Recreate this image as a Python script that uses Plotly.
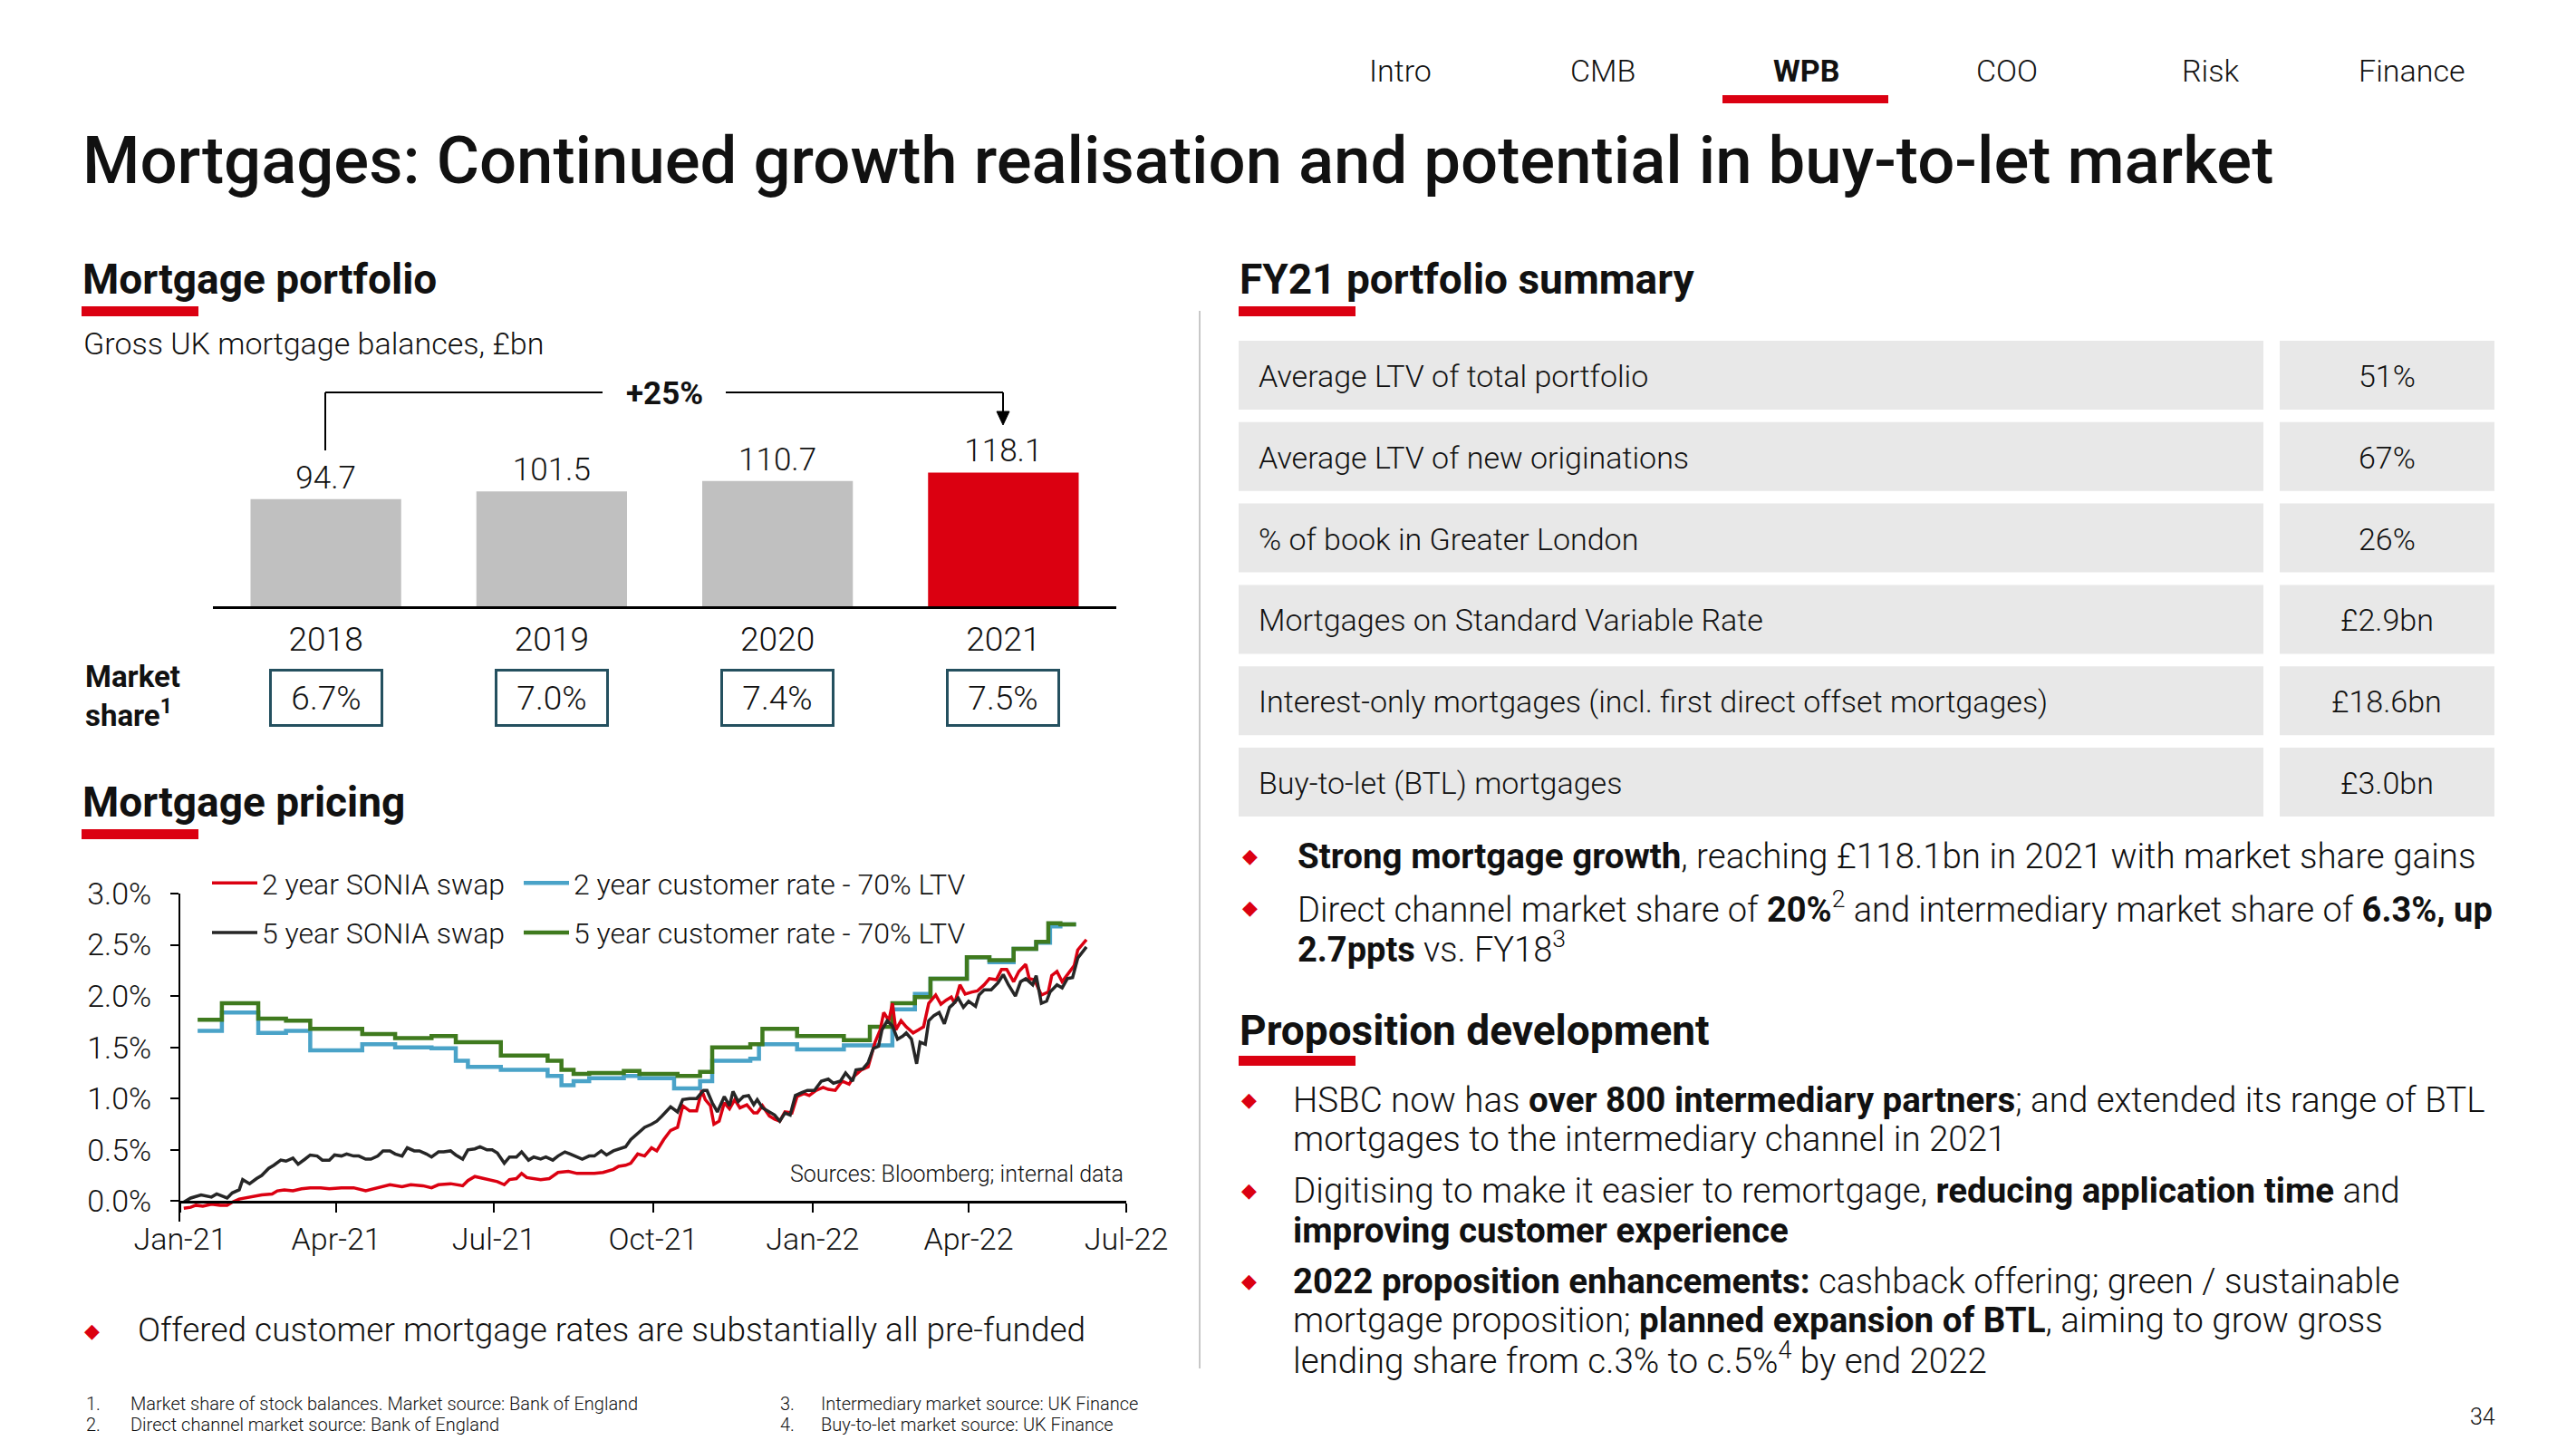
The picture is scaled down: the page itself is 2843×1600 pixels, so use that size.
import plotly.graph_objects as go

W, H = 2843, 1600
def X(p): return p / W
def Y(p): return 1 - p / H

FONT = "Roboto"
TXT = "#111111"
RED = "#DB0011"
GREY = "#C0C0C0"
TEAL = "#24505F"
TABLE_BG = "#E8E8E8"
BLUE = "#4AA3C8"
GREEN = "#3F7A1E"
BLACK = "#262626"

# ---------------- data ----------------
years = ["2018", "2019", "2020", "2021"]
balances = [94.7, 101.5, 110.7, 118.1]
market_share = ["6.7%", "7.0%", "7.4%", "7.5%"]

sonia2_dates = ["2021-01-03","2021-01-07","2021-01-10","2021-01-14","2021-01-19","2021-01-24","2021-01-28","2021-01-31",
    "2021-02-04","2021-02-07","2021-02-12","2021-02-17","2021-02-23","2021-02-26",
    "2021-03-02","2021-03-07","2021-03-12","2021-03-17","2021-03-23","2021-03-28",
    "2021-04-04","2021-04-11","2021-04-18","2021-04-25",
    "2021-05-02","2021-05-09","2021-05-14","2021-05-21","2021-05-26","2021-05-30",
    "2021-06-06","2021-06-13","2021-06-16","2021-06-20","2021-06-25","2021-06-30",
    "2021-07-03","2021-07-07","2021-07-10","2021-07-14","2021-07-17","2021-07-20","2021-07-24","2021-07-28",
    "2021-08-02","2021-08-07","2021-08-13","2021-08-18","2021-08-23","2021-08-28",
    "2021-09-02","2021-09-08","2021-09-11","2021-09-15","2021-09-18","2021-09-22","2021-09-26","2021-09-30",
    "2021-10-03","2021-10-07","2021-10-11","2021-10-15","2021-10-18","2021-10-22","2021-10-26","2021-10-29","2021-10-31",
    "2021-11-03","2021-11-05","2021-11-08","2021-11-11","2021-11-14","2021-11-17","2021-11-20","2021-11-24","2021-11-28","2021-11-30",
    "2021-12-03","2021-12-07","2021-12-10","2021-12-13","2021-12-16","2021-12-20","2021-12-23","2021-12-27","2021-12-30",
    "2022-01-03","2022-01-07","2022-01-10","2022-01-14","2022-01-18","2022-01-22","2022-01-25","2022-01-29",
    "2022-02-02","2022-02-06","2022-02-09","2022-02-11","2022-02-14","2022-02-16","2022-02-18","2022-02-21","2022-02-24","2022-02-28",
    "2022-03-03","2022-03-06","2022-03-09","2022-03-13","2022-03-16","2022-03-19","2022-03-22","2022-03-24","2022-03-27","2022-03-30",
    "2022-04-03","2022-04-06","2022-04-10","2022-04-13","2022-04-17","2022-04-20","2022-04-23","2022-04-27","2022-04-30",
    "2022-05-04","2022-05-06","2022-05-09","2022-05-13","2022-05-17","2022-05-19","2022-05-22","2022-05-25","2022-05-29",
    "2022-06-01","2022-06-03","2022-06-08"]
sonia2_vals = [-0.07,-0.06,-0.04,-0.05,-0.03,-0.04,-0.04,-0.01,
    0.02,0.03,0.04,0.06,0.07,0.10,
    0.11,0.10,0.12,0.13,0.13,0.12,
    0.13,0.13,0.10,0.13,
    0.16,0.14,0.16,0.15,0.13,0.16,
    0.17,0.15,0.20,0.24,0.22,0.20,
    0.19,0.16,0.21,0.22,0.27,0.23,0.22,0.21,
    0.22,0.28,0.29,0.27,0.27,0.27,
    0.28,0.31,0.34,0.35,0.37,0.46,0.44,0.52,
    0.49,0.60,0.69,0.72,0.93,0.88,0.88,1.08,0.99,
    0.93,0.75,0.78,0.96,0.90,0.99,0.91,0.94,0.86,0.86,
    0.93,0.83,0.80,0.78,0.87,0.86,1.02,1.05,1.03,
    1.08,1.11,1.09,1.08,1.17,1.14,1.22,1.28,
    1.31,1.55,1.67,1.84,1.76,1.93,1.67,1.76,1.70,1.64,
    1.67,1.70,1.93,2.01,1.92,1.96,1.99,1.93,2.11,2.02,
    2.04,2.05,2.11,2.17,2.16,2.26,2.26,2.14,2.24,
    2.31,2.17,2.16,2.01,2.04,2.20,2.24,2.14,2.23,
    2.30,2.45,2.55]

sonia5_dates = ["2021-01-03","2021-01-07","2021-01-13","2021-01-19","2021-01-22","2021-01-28","2021-01-31",
    "2021-02-04","2021-02-06","2021-02-10","2021-02-14","2021-02-17","2021-02-21","2021-02-24","2021-02-28",
    "2021-03-03","2021-03-07","2021-03-10","2021-03-14","2021-03-17","2021-03-21","2021-03-24","2021-03-28","2021-03-31",
    "2021-04-04","2021-04-07","2021-04-11","2021-04-14","2021-04-18","2021-04-21","2021-04-25","2021-04-28",
    "2021-05-02","2021-05-05","2021-05-09","2021-05-12","2021-05-16","2021-05-19","2021-05-23","2021-05-26","2021-05-30",
    "2021-06-02","2021-06-06","2021-06-09","2021-06-13","2021-06-16","2021-06-20","2021-06-23","2021-06-27","2021-06-30",
    "2021-07-03","2021-07-07","2021-07-10","2021-07-14","2021-07-17","2021-07-21","2021-07-24","2021-07-28","2021-07-31",
    "2021-08-04","2021-08-07","2021-08-11","2021-08-14","2021-08-18","2021-08-21","2021-08-25","2021-08-28",
    "2021-09-01","2021-09-04","2021-09-08","2021-09-11","2021-09-15","2021-09-18","2021-09-22","2021-09-26","2021-09-30",
    "2021-10-03","2021-10-06","2021-10-11","2021-10-15","2021-10-18","2021-10-22","2021-10-26","2021-10-30",
    "2021-11-01","2021-11-04","2021-11-07","2021-11-11","2021-11-14","2021-11-16","2021-11-19","2021-11-22","2021-11-25","2021-11-28","2021-11-30",
    "2021-12-03","2021-12-07","2021-12-10","2021-12-13","2021-12-16","2021-12-19","2021-12-22","2021-12-26","2021-12-29",
    "2022-01-02","2022-01-06","2022-01-10","2022-01-13","2022-01-17","2022-01-20","2022-01-24","2022-01-26","2022-01-30",
    "2022-02-02","2022-02-05","2022-02-08","2022-02-10","2022-02-13","2022-02-16","2022-02-19","2022-02-22","2022-02-24","2022-02-27",
    "2022-03-02","2022-03-04","2022-03-07","2022-03-09","2022-03-12","2022-03-15","2022-03-18","2022-03-21","2022-03-23","2022-03-26","2022-03-29",
    "2022-04-01","2022-04-05","2022-04-07","2022-04-10","2022-04-14","2022-04-18","2022-04-21","2022-04-24","2022-04-28",
    "2022-05-01","2022-05-04","2022-05-08","2022-05-10","2022-05-13","2022-05-16","2022-05-18","2022-05-22","2022-05-25","2022-05-28","2022-05-31",
    "2022-06-03","2022-06-08"]
sonia5_vals = [-0.01,0.03,0.06,0.04,0.07,0.03,0.08,
    0.11,0.21,0.17,0.22,0.25,0.32,0.35,0.40,
    0.39,0.42,0.36,0.41,0.45,0.44,0.40,0.40,0.45,
    0.44,0.46,0.44,0.44,0.41,0.41,0.44,0.49,
    0.49,0.46,0.44,0.52,0.49,0.49,0.46,0.43,0.48,
    0.48,0.49,0.45,0.41,0.50,0.51,0.53,0.50,0.50,
    0.47,0.37,0.43,0.43,0.48,0.40,0.43,0.41,0.43,
    0.40,0.44,0.48,0.46,0.43,0.41,0.44,0.44,
    0.49,0.45,0.49,0.51,0.53,0.60,0.66,0.72,0.75,
    0.78,0.83,0.92,0.87,0.99,1.00,1.00,1.08,
    1.08,0.96,0.87,1.02,0.93,1.07,0.97,1.02,1.03,0.94,0.99,
    0.91,0.87,0.84,0.78,0.86,0.84,1.03,1.06,1.08,
    1.08,1.17,1.19,1.15,1.17,1.25,1.17,1.28,1.29,
    1.35,1.49,1.51,1.67,1.76,1.71,1.58,1.61,1.64,1.58,
    1.34,1.55,1.53,1.76,1.81,1.84,1.73,1.89,1.92,1.98,1.89,
    1.95,1.90,2.01,2.06,2.06,2.13,2.21,2.11,2.00,
    2.14,2.17,2.11,2.20,1.93,1.95,2.04,2.11,2.08,2.17,2.18,
    2.37,2.48]

cust2_dates = ["2021-01-11","2021-01-25","2021-02-15","2021-03-03","2021-03-17","2021-04-16","2021-05-05",
    "2021-05-26","2021-06-09","2021-06-16","2021-07-05","2021-08-01","2021-08-09","2021-08-16","2021-08-25",
    "2021-09-14","2021-09-23","2021-10-13","2021-10-28","2021-11-04","2021-11-26","2021-12-01","2021-12-23",
    "2022-01-19","2022-02-16","2022-03-01","2022-03-10","2022-03-31","2022-04-13","2022-04-27","2022-05-10",
    "2022-05-18","2022-05-24","2022-06-02"]
cust2_vals = [1.66,1.84,1.64,1.66,1.47,1.53,1.50,
    1.49,1.37,1.31,1.28,1.22,1.13,1.17,1.20,
    1.22,1.20,1.10,1.17,1.37,1.39,1.53,1.48,
    1.52,1.87,2.02,2.17,2.38,2.33,2.46,2.52,
    2.68,2.70,2.70]

cust5_dates = ["2021-01-11","2021-01-25","2021-02-15","2021-03-03","2021-03-17","2021-04-16","2021-05-05",
    "2021-05-26","2021-06-09","2021-07-05","2021-08-01","2021-08-09","2021-08-16","2021-08-25",
    "2021-09-14","2021-09-23","2021-10-15","2021-10-28","2021-11-04","2021-11-26","2021-12-03","2021-12-23",
    "2022-01-19","2022-02-03","2022-02-16","2022-03-01","2022-03-10","2022-03-31","2022-04-13","2022-04-27",
    "2022-05-10","2022-05-17","2022-05-24","2022-06-02"]
cust5_vals = [1.77,1.93,1.78,1.76,1.68,1.63,1.59,
    1.61,1.55,1.42,1.37,1.28,1.24,1.25,
    1.27,1.24,1.22,1.26,1.50,1.53,1.68,1.61,
    1.57,1.70,1.93,1.99,2.17,2.38,2.35,2.46,
    2.53,2.71,2.70,2.70]

y_ticks = [0, 0.5, 1.0, 1.5, 2.0, 2.5, 3.0]
y_tick_labels = ["0.0%", "0.5%", "1.0%", "1.5%", "2.0%", "2.5%", "3.0%"]
x_ticks = ["2021-01-01", "2021-04-01", "2021-07-01", "2021-10-01", "2022-01-01", "2022-04-01", "2022-07-01"]
x_tick_labels = ["Jan-21", "Apr-21", "Jul-21", "Oct-21", "Jan-22", "Apr-22", "Jul-22"]

table_labels = ["Average LTV of total portfolio", "Average LTV of new originations",
                "% of book in Greater London", "Mortgages on Standard Variable Rate",
                "Interest-only mortgages (incl. first direct offset mortgages)",
                "Buy-to-let (BTL) mortgages"]
table_values = ["51%", "67%", "26%", "£2.9bn", "£18.6bn", "£3.0bn"]

nav_items = ["Intro", "CMB", "WPB", "COO", "Risk", "Finance"]

# ---------------- figure ----------------
fig = go.Figure()

fig.add_trace(go.Bar(
    x=years, y=balances, xaxis="x", yaxis="y",
    marker=dict(color=[GREY, GREY, GREY, RED], line=dict(width=0)),
    width=0.667, text=[f"{v:.1f}" for v in balances], textposition="outside",
    textfont=dict(family=FONT, size=35, color=TXT, weight=300), cliponaxis=False,
    showlegend=False, hoverinfo="skip"))

line_specs = [
    ("2 year customer rate - 70% LTV", cust2_dates, cust2_vals, BLUE, 4.5, "hv", "legend2", 1),
    ("5 year customer rate - 70% LTV", cust5_dates, cust5_vals, GREEN, 4.5, "hv", "legend2", 2),
    ("2 year SONIA swap", sonia2_dates, sonia2_vals, RED, 3.5, "linear", "legend", 1),
    ("5 year SONIA swap", sonia5_dates, sonia5_vals, BLACK, 3.5, "linear", "legend", 2),
]
for name, xs, ys, col, lw, shape, leg, rank in line_specs:
    fig.add_trace(go.Scatter(
        x=xs, y=ys, name=name, mode="lines", xaxis="x2", yaxis="y2",
        line=dict(color=col, width=lw, shape=shape), legend=leg, legendrank=rank,
        legendgroup=name, hoverinfo="skip"))

# dummy trace for the zero-anchored date axis
fig.add_trace(go.Scatter(x=[], y=[], xaxis="x3", yaxis="y3", showlegend=False))

axis_font = dict(family=FONT, size=34, color=TXT, weight=300)
leg_font = dict(family=FONT, size=32, color=TXT, weight=300)
fig.update_layout(
    width=W, height=H, margin=dict(l=0, r=0, t=0, b=0, autoexpand=False),
    paper_bgcolor="white", plot_bgcolor="rgba(0,0,0,0)",
    font=dict(family=FONT, color=TXT),
    xaxis=dict(domain=[X(235), X(1232)], anchor="y", type="category",
               range=[-0.5, 3.5], automargin=False,
               showline=True, linecolor="black", linewidth=3, ticks="",
               tickfont=dict(family=FONT, size=37, color=TXT, weight=300),
               ticklabelstandoff=2, showgrid=False, zeroline=False, fixedrange=True),
    yaxis=dict(domain=[Y(669), Y(506.5)], anchor="x", range=[0, 130], visible=False,
               automargin=False),
    xaxis2=dict(domain=[X(199), X(1243)], anchor="y2", type="date",
                range=["2021-01-01", "2022-07-01"], visible=False, automargin=False),
    yaxis2=dict(domain=[Y(1348), Y(986)], anchor="x2", range=[-0.2, 3.0], automargin=False,
                showline=True, linecolor="black", linewidth=2, ticks="outside",
                ticklen=9, tickwidth=2, tickcolor="black", tickvals=y_ticks,
                ticktext=y_tick_labels, tickfont=axis_font, showgrid=False,
                zeroline=False, ticklabelstandoff=14),
    xaxis3=dict(domain=[X(199), X(1243)], anchor="y3", type="date", automargin=False,
                range=["2021-01-01", "2022-07-01"], showline=True, linecolor="black",
                linewidth=3, ticks="outside", ticklen=10, tickwidth=2, tickcolor="black",
                tickvals=x_ticks, ticktext=x_tick_labels, tickfont=axis_font,
                showgrid=False, zeroline=False, ticklabelstandoff=0),
    yaxis3=dict(domain=[Y(1325), Y(1325) + 0.01], anchor="x3", range=[0, 1], visible=False,
                automargin=False),
    legend=dict(x=X(229), y=Y(947), xanchor="left", yanchor="top",
                bgcolor="rgba(0,0,0,0)", font=leg_font,
                traceorder="grouped", tracegroupgap=10, itemwidth=50),
    legend2=dict(x=X(573), y=Y(947), xanchor="left", yanchor="top",
                 bgcolor="rgba(0,0,0,0)", font=leg_font,
                 traceorder="grouped", tracegroupgap=10, itemwidth=50),
)

shapes = []
def rect(x0, y0, x1, y1, color):
    shapes.append(dict(type="rect", xref="paper", yref="paper", x0=X(x0), x1=X(x1),
                       y0=Y(y1), y1=Y(y0), fillcolor=color, line=dict(width=0), layer="below"))
def line(x0, y0, x1, y1, color="black", width=2):
    shapes.append(dict(type="line", xref="paper", yref="paper", x0=X(x0), x1=X(x1),
                       y0=Y(y0), y1=Y(y1), line=dict(color=color, width=width)))

def txt(x, y, s, size=31, xanchor="left", color=TXT, weight=300, yanchor="middle"):
    fig.add_annotation(x=X(x), y=Y(y), xref="paper", yref="paper", text=s, showarrow=False,
                       xanchor=xanchor, yanchor=yanchor,
                       font=dict(family=FONT, size=size, color=color, weight=weight))

def bullet(x, y):
    txt(x, y, "◆", size=22, xanchor="center", color=RED, weight=400)

# nav
nav_x = [1545, 1769, 1993, 2215, 2439, 2662]
for name, nx in zip(nav_items, nav_x):
    txt(nx, 78, name, size=34, xanchor="center", weight=700 if name == "WPB" else 300)
rect(1901, 105, 2084, 114, RED)

# title
txt(89, 178, "Mortgages: Continued growth realisation and potential in buy-to-let market", size=72.5, weight=500)

# section headers
txt(89, 308, "<b>Mortgage portfolio</b>", size=46, weight=700)
rect(90, 338, 219, 349, RED)
txt(90, 379, "Gross UK mortgage balances, £bn", size=34)
txt(1366, 308, "<b>FY21 portfolio summary</b>", size=46, weight=700)
rect(1367, 338, 1496, 349, RED)
txt(89, 885, "<b>Mortgage pricing</b>", size=46, weight=700)
rect(90, 915, 219, 926, RED)

# separator
line(1324, 343, 1324, 1510, color="#C8C8C8", width=2)

# +25% bracket
line(359, 497, 359, 433)
line(359, 433, 665, 433)
line(801, 433, 1107, 433)
line(1107, 433, 1107, 456)
shapes.append(dict(type="path", xref="paper", yref="paper",
                   path=f"M {X(1100)},{Y(454)} L {X(1114)},{Y(454)} L {X(1107)},{Y(469)} Z",
                   fillcolor="black", line=dict(color="black", width=1)))
txt(733, 435, "<b>+25%</b>", size=35, xanchor="center", weight=700)

# market share
txt(92, 747, "<b>Market</b>", size=33, weight=700)
txt(92, 787, "<b>share</b><sup>1</sup>", size=33, weight=700)
for i, ms in enumerate(market_share):
    fig.add_annotation(x=i, y=Y(770), xref="x", yref="paper", text=ms, showarrow=False,
                       xanchor="center", yanchor="middle", width=120, height=58,
                       bordercolor=TEAL, borderwidth=3, borderpad=0, bgcolor="white",
                       font=dict(family=FONT, size=37, color=TXT, weight=300))

# sources
txt(1242, 1295, "Sources: Bloomberg; internal data", size=25, xanchor="right")

# bottom-left bullet
bullet(102, 1468)
txt(150, 1467, "Offered customer mortgage rates are substantially all pre-funded", size=37)

# footnotes
txt(93, 1549, "1.", size=20)
txt(142, 1549, "Market share of stock balances. Market source: Bank of England", size=20)
txt(93, 1572, "2.", size=20)
txt(142, 1572, "Direct channel market source: Bank of England", size=20)
txt(859, 1549, "3.", size=20)
txt(904, 1549, "Intermediary market source: UK Finance", size=20)
txt(859, 1572, "4.", size=20)
txt(904, 1572, "Buy-to-let market source: UK Finance", size=20)

# table
for i, (lab, val) in enumerate(zip(table_labels, table_values)):
    top = 376 + i * 89.8
    rect(1367, top, 2498, top + 76, TABLE_BG)
    rect(2516, top, 2753, top + 76, TABLE_BG)
    txt(1387, top + 39, lab, size=34)
    txt(2634, top + 39, val, size=34, xanchor="center")

# right bullets
BS = 38.5
bullet(1379, 945)
txt(1430, 945, "<b>Strong mortgage growth</b>, reaching £118.1bn in 2021 with market share gains", size=BS)
bullet(1379, 1001)
txt(1430, 1001, "Direct channel market share of <b>20%</b><sup>2</sup> and intermediary market share of <b>6.3%, up</b>", size=38)
txt(1430, 1045, "<b>2.7ppts</b> vs. FY18<sup>3</sup>", size=38)

txt(1366, 1137, "<b>Proposition development</b>", size=46, weight=700)
rect(1367, 1165, 1496, 1176, RED)

bullet(1378, 1213)
txt(1425, 1213, "HSBC now has <b>over 800 intermediary partners</b>; and extended its range of BTL", size=BS)
txt(1425, 1256, "mortgages to the intermediary channel in 2021", size=BS)
bullet(1378, 1313)
txt(1425, 1313, "Digitising to make it easier to remortgage, <b>reducing application time</b> and", size=BS)
txt(1425, 1357, "<b>improving customer experience</b>", size=BS)
bullet(1378, 1413)
txt(1425, 1413, "<b>2022 proposition enhancements:</b> cashback offering; green / sustainable", size=BS)
txt(1425, 1456, "mortgage proposition; <b>planned expansion of BTL</b>, aiming to grow gross", size=BS)
txt(1425, 1499, "lending share from c.3% to c.5%<sup>4</sup> by end 2022", size=BS)

txt(2740, 1563, "34", size=25, xanchor="center")

fig.update_layout(shapes=shapes)
fig.write_html("out.html", config={"displayModeBar": False},
               post_script="document.body.style.margin='0px';")
